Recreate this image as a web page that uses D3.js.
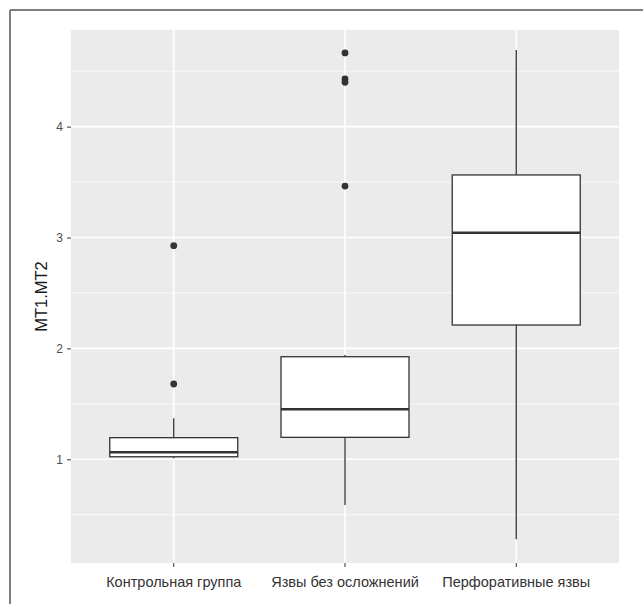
<!DOCTYPE html>
<html><head><meta charset="utf-8">
<script src="https://cdn.jsdelivr.net/npm/d3@7"></script>
<style>body{margin:0;background:#fff}svg{display:block}</style>
</head><body>
<script>
const categories = ["Контрольная группа", "Язвы без осложнений", "Перфоративные язвы"];
const whiskerLow = [1.01, 0.588, 0.279];
const q1 = [1.023, 1.198, 2.211];
const median = [1.063, 1.451, 3.043];
const q3 = [1.195, 1.925, 3.564];
const whiskerHigh = [1.37, 1.94, 4.69];
const outliers = [[2.926, 1.679], [4.664, 4.43, 4.40, 3.464], []];
const yTicks = [1, 2, 3, 4];
const yMinor = [0.5, 1.5, 2.5, 3.5, 4.5];
const yTitle = "MT1.MT2";

const W = 643, H = 606;
const panel = {x0: 71, x1: 619, y0: 30, y1: 563};
const svg = d3.select("body").append("svg").attr("width", W).attr("height", H);

// outer frame
svg.append("line").attr("x1", 10).attr("x2", W).attr("y1", 10).attr("y2", 10).attr("stroke", "#7f7f7f").attr("stroke-width", 2);
svg.append("line").attr("x1", 10).attr("x2", 10).attr("y1", 10).attr("y2", 604).attr("stroke", "#7f7f7f").attr("stroke-width", 2);

const x = d3.scaleBand().domain(categories).range([panel.x0, panel.x1]).paddingOuter(0.1).paddingInner(0);
const xc = d => x(d) + x.bandwidth() / 2;
const y = d3.scaleLinear().domain([0.065, 4.871]).range([panel.y1, panel.y0]);

svg.append("rect").attr("x", panel.x0).attr("y", panel.y0).attr("width", panel.x1 - panel.x0).attr("height", panel.y1 - panel.y0).attr("fill", "#ebebeb");

const g = svg.append("g");
g.selectAll(".minor").data(yMinor).join("line")
  .attr("x1", panel.x0).attr("x2", panel.x1).attr("y1", d => y(d)).attr("y2", d => y(d))
  .attr("stroke", "#fff").attr("stroke-width", 0.8);
g.selectAll(".major").data(yTicks).join("line")
  .attr("x1", panel.x0).attr("x2", panel.x1).attr("y1", d => y(d)).attr("y2", d => y(d))
  .attr("stroke", "#fff").attr("stroke-width", 1.6);
g.selectAll(".vmajor").data(categories).join("line")
  .attr("x1", d => xc(d)).attr("x2", d => xc(d)).attr("y1", panel.y0).attr("y2", panel.y1)
  .attr("stroke", "#fff").attr("stroke-width", 1.6);

// axes
const yAxis = svg.append("g").attr("transform", `translate(${panel.x0},0)`)
  .call(d3.axisLeft(y).tickValues(yTicks).tickFormat(d3.format("d")).tickSize(4).tickPadding(4));
yAxis.select(".domain").remove();
yAxis.selectAll("line").attr("stroke", "#333").attr("stroke-width", 1);
yAxis.selectAll("text").attr("fill", "#4d4d4d").attr("font-size", 12).attr("font-family", "Liberation Sans, Arial, sans-serif");

const xAxis = svg.append("g").attr("transform", `translate(0,${panel.y1})`)
  .call(d3.axisBottom(x).tickSize(4).tickPadding(6));
xAxis.select(".domain").remove();
xAxis.selectAll("line").attr("stroke", "#333").attr("stroke-width", 1);
xAxis.selectAll("text").attr("fill", "#333").attr("font-size", 14.5).attr("font-family", "Liberation Sans, Arial, sans-serif")
  .attr("dy", "0.95em");

svg.append("text").attr("transform", `translate(47,${(panel.y0 + panel.y1) / 2}) rotate(-90)`)
  .attr("text-anchor", "middle").attr("font-size", 16.5).attr("fill", "#1a1a1a")
  .attr("font-family", "Liberation Sans, Arial, sans-serif").text(yTitle);

// boxes
const bw = 128;
const boxes = svg.append("g");
categories.forEach((c, i) => {
  const cx = xc(c);
  const bg = boxes.append("g");
  bg.append("line").attr("x1", cx).attr("x2", cx).attr("y1", y(q3[i])).attr("y2", y(whiskerHigh[i])).attr("stroke", "#333").attr("stroke-width", 1.3);
  bg.append("line").attr("x1", cx).attr("x2", cx).attr("y1", y(q1[i])).attr("y2", y(whiskerLow[i])).attr("stroke", "#333").attr("stroke-width", 1.3);
  bg.append("rect").attr("x", cx - bw / 2).attr("y", y(q3[i])).attr("width", bw).attr("height", y(q1[i]) - y(q3[i]))
    .attr("fill", "#fff").attr("stroke", "#333").attr("stroke-width", 1.3);
  bg.append("line").attr("x1", cx - bw / 2).attr("x2", cx + bw / 2).attr("y1", y(median[i])).attr("y2", y(median[i])).attr("stroke", "#333").attr("stroke-width", 2.6);
  bg.selectAll("circle").data(outliers[i]).join("circle")
    .attr("cx", cx).attr("cy", d => y(d)).attr("r", 3.4).attr("fill", "#333");
});
</script>
</body></html>
